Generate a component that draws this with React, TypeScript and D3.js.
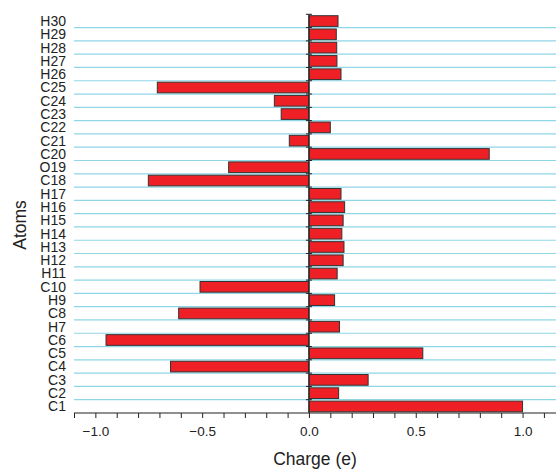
import React, { useEffect, useRef } from 'react';
import * as d3 from 'd3';

// atoms listed bottom to top
const atoms = [
  'C1', 'C2', 'C3', 'C4', 'C5', 'C6', 'H7', 'C8', 'H9', 'C10',
  'H11', 'H12', 'H13', 'H14', 'H15', 'H16', 'H17', 'C18', 'O19', 'C20',
  'C21', 'C22', 'C23', 'C24', 'C25', 'H26', 'H27', 'H28', 'H29', 'H30',
];
const charges = [
  1.0, 0.139, 0.277, -0.648, 0.533, -0.95, 0.143, -0.61, 0.12, -0.51,
  0.132, 0.16, 0.164, 0.154, 0.16, 0.167, 0.15, -0.752, -0.376, 0.844,
  -0.092, 0.1, -0.13, -0.162, -0.71, 0.15, 0.131, 0.13, 0.128, 0.136,
];
const xTicks = [-1.0, -0.5, 0.0, 0.5, 1.0];

const App = () => {
  const svgRef = useRef<SVGSVGElement>(null);

  useEffect(() => {
    const svg = d3.select(svgRef.current);
    svg.selectAll('*').remove();

    const width = 556;
    const height = 471;
    const left = 74;
    const top = 14.3;
    const bottom = 413;
    const font = 'Arial, "Liberation Sans", sans-serif';

    const x = d3.scaleLinear().domain([-1.1, 1.15]).range([left, 554.6]);
    const y = d3.scaleBand().domain([...atoms].reverse()).range([top, bottom]).padding(0);
    const bw = y.bandwidth();

    svg.attr('width', width).attr('height', height).style('font-family', font);

    // grid lines at category boundaries
    const bounds = d3.range(1, atoms.length).map(i => top + i * bw);
    svg.append('g')
      .selectAll('line')
      .data(bounds)
      .join('line')
      .attr('x1', left)
      .attr('x2', width)
      .attr('y1', d => d)
      .attr('y2', d => d)
      .attr('stroke', '#8fd6e6')
      .attr('stroke-width', 1.2);

    // bars
    svg.append('g')
      .selectAll('rect')
      .data(atoms)
      .join('rect')
      .attr('x', (d, i) => x(Math.min(0, charges[i])))
      .attr('y', d => (y(d) as number) + 1.4)
      .attr('width', (d, i) => Math.abs(x(charges[i]) - x(0)))
      .attr('height', bw - 2.6)
      .attr('fill', '#ee1f25')
      .attr('stroke', '#333')
      .attr('stroke-width', 1);

    // zero axis with ticks at boundaries
    const zero = x(0);
    const za = svg.append('g').attr('stroke', '#222');
    za.append('line')
      .attr('x1', zero).attr('x2', zero)
      .attr('y1', top).attr('y2', bottom)
      .attr('stroke-width', 1.2);
    za.selectAll('line.t')
      .data([top, ...bounds])
      .join('line')
      .attr('class', 't')
      .attr('x1', zero - 3).attr('x2', zero + 3)
      .attr('y1', d => d).attr('y2', d => d);

    // category labels
    svg.append('g')
      .selectAll('text')
      .data(atoms)
      .join('text')
      .attr('x', 66)
      .attr('y', d => (y(d) as number) + bw / 2 + 5)
      .attr('text-anchor', 'end')
      .attr('font-size', 14)
      .attr('fill', '#222')
      .text(d => d);

    // bottom axis
    const xAxis = d3.axisBottom(x)
      .tickValues(d3.range(-11, 12).map(v => v / 10))
      .tickSize(5)
      .tickFormat(d => (xTicks.some(t => Math.abs(t - (d as number)) < 1e-6) ? d3.format('.1f')(d as number) : ''));
    const gx = svg.append('g')
      .attr('transform', `translate(0,${bottom})`)
      .call(xAxis);
    gx.select('.domain').attr('d', `M${left},0H${width}`).attr('stroke', '#222').attr('stroke-width', 1.2);
    gx.selectAll('.tick line').attr('stroke', '#222');
    gx.selectAll('.tick text')
      .attr('font-size', 13.5)
      .attr('font-family', font)
      .attr('fill', '#222')
      .attr('dy', 0)
      .attr('y', 23);

    svg.append('text')
      .attr('x', 315)
      .attr('y', 465)
      .attr('text-anchor', 'middle')
      .attr('font-size', 17.5)
      .attr('fill', '#222')
      .text('Charge (e)');

    svg.append('text')
      .attr('transform', `translate(26,225) rotate(-90)`)
      .attr('text-anchor', 'middle')
      .attr('font-size', 17.5)
      .attr('fill', '#222')
      .text('Atoms');
  }, []);

  return <svg ref={svgRef} style={{ position: 'absolute', left: 0, top: 0 }} />;
};

export default App;
